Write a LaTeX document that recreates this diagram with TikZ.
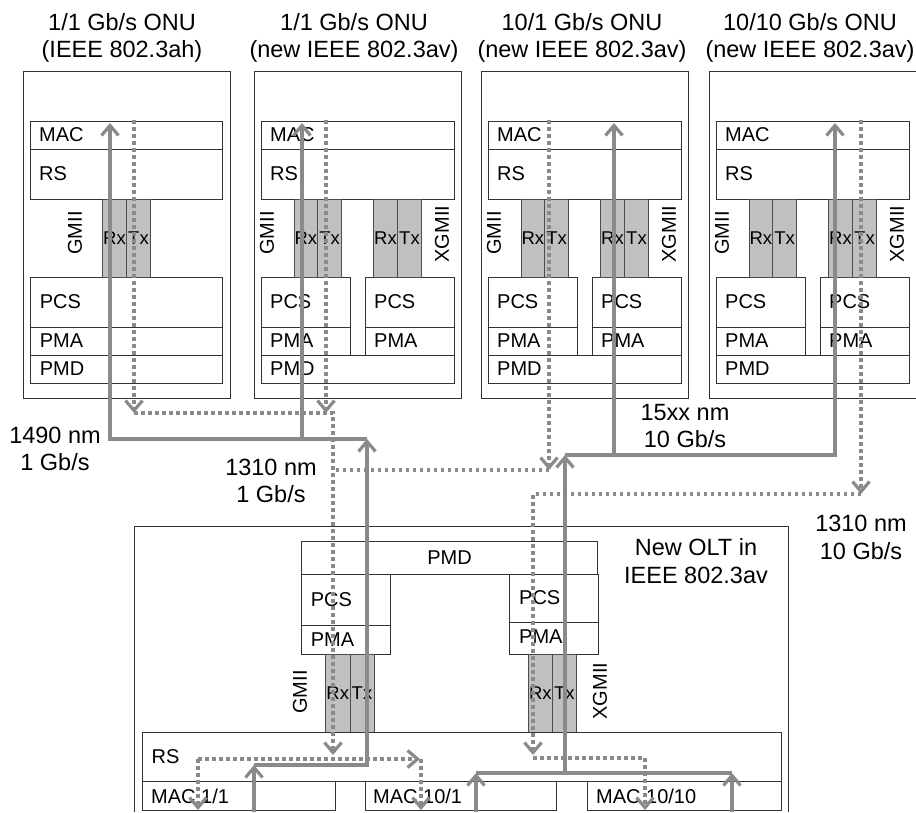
\documentclass[tikz,border=0pt]{standalone}
\usepackage{fontspec}
\setmainfont{Liberation Sans}
\usetikzlibrary{arrows.meta}
\definecolor{linegray}{RGB}{138,138,138}
\definecolor{cellgray}{RGB}{192,192,192}

\begin{document}
\begin{tikzpicture}[x=1pt,y=-1pt,
  box/.style={draw=black!80,line width=0.9pt},
  cell/.style={draw=black!70,fill=cellgray,line width=0.9pt},
  lbl/.style={anchor=west,inner sep=0pt,font=\fontsize{20}{24}\selectfont},
  caption/.style={inner sep=0pt,align=center,font=\fontsize{23.5}{27.7}\selectfont},
  rxtx/.style={inner sep=0pt,font=\fontsize{18.5}{20}\selectfont},
  mii/.style={inner sep=0pt,rotate=90,font=\fontsize{20}{24}\selectfont},
  rxline/.style={draw=linegray,line width=3.2pt},
  txline/.style={draw=linegray,line width=3.2pt,dash pattern=on 3.5pt off 3.5pt},
  barb/.style={-{Straight Barb[length=10pt,width=17pt]}}]

\useasboundingbox (0,0) rectangle (916,812);

\node[caption] (t-a) at (122,38) {1/1 Gb/s ONU\\(IEEE 802.3ah)};
\node[caption] (t-b) at (354,38) {1/1 Gb/s ONU\\(new IEEE 802.3av)};
\node[caption] (t-c) at (582,38) {10/1 Gb/s ONU\\(new IEEE 802.3av)};
\node[caption] (t-d) at (810,38) {10/10 Gb/s ONU\\(new IEEE 802.3av)};

% 802.3ah ONU
\draw[box] (23,71) rectangle (230,398);
\draw[box] (30,121) rectangle (222.5,149);
\draw[box] (30,149) rectangle (222.5,199);
\draw[box] (30.7,277) rectangle (222.3,327);
\draw[box] (30.7,327) rectangle (222.3,355);
\draw[box] (30.7,355) rectangle (222.3,383);
\draw[cell] (102.3,199) rectangle (126.7,277);
\draw[cell] (126.7,199) rectangle (150.3,277);
\node[lbl] (a-mac) at (39,135) {MAC};
\node[lbl] (a-rs) at (39,174) {RS};
\node[lbl] (a-pcs) at (39.7,302) {PCS};
\node[lbl] (a-pma) at (39.7,341) {PMA};
\node[lbl] (a-pmd) at (39.7,369) {PMD};
\node[rxtx] (a-rxl) at (114.5,238) {Rx};
\node[rxtx] (a-txl) at (138.5,238) {Tx};
\node[mii] (a-mii) at (75,233) {GMII};

% 802.3av ONUs
\foreach \ox/\k in {254/b,481/c,709/d}{
  \draw[box] (\ox,71) rectangle ({\ox+207},398);
  \draw[box] ({\ox+7},121) rectangle ({\ox+200},149);
  \draw[box] ({\ox+7},149) rectangle ({\ox+200},199);
  \draw[box] ({\ox+7},277) rectangle ({\ox+96},327);
  \draw[box] ({\ox+7},327) rectangle ({\ox+96},355);
  \draw[box] ({\ox+111},277) rectangle ({\ox+200},327);
  \draw[box] ({\ox+111},327) rectangle ({\ox+200},355);
  \draw[box] ({\ox+7},355) rectangle ({\ox+200},383);
  \draw[cell] ({\ox+40},199) rectangle ({\ox+63.7},277);
  \draw[cell] ({\ox+63.7},199) rectangle ({\ox+87.5},277);
  \draw[cell] ({\ox+119.5},199) rectangle ({\ox+143.5},277);
  \draw[cell] ({\ox+143.5},199) rectangle ({\ox+167.5},277);
  \node[lbl] (\k-mac) at ({\ox+16},135) {MAC};
  \node[lbl] (\k-rs) at ({\ox+16},174) {RS};
  \node[lbl] (\k-pcs) at ({\ox+16},302) {PCS};
  \node[lbl] (\k-pma) at ({\ox+16},341) {PMA};
  \node[lbl] (\k-xpcs) at ({\ox+120},302) {PCS};
  \node[lbl] (\k-xpma) at ({\ox+120},341) {PMA};
  \node[lbl] (\k-pmd) at ({\ox+16},369) {PMD};
  \node[rxtx] (\k-rxl) at ({\ox+51.9},238) {Rx};
  \node[rxtx] (\k-txl) at ({\ox+75.6},238) {Tx};
  \node[rxtx] (\k-xrxl) at ({\ox+131.5},238) {Rx};
  \node[rxtx] (\k-xtxl) at ({\ox+155.5},238) {Tx};
  \node[mii] (\k-mii) at ({\ox+13},233) {GMII};
  \node[mii] (\k-xmii) at ({\ox+188},234) {XGMII};
}

% OLT
\draw[box] (134,812) -- (134,526) -- (788,526) -- (788,812);
\draw[box] (301.7,541.7) rectangle (597.5,574);
\draw[box] (301.7,574) rectangle (390.7,625.7);
\draw[box] (301.7,625.7) rectangle (390.7,654);
\draw[box] (509.3,574) rectangle (598.3,622.3);
\draw[box] (509.3,622.3) rectangle (598.3,654);
\draw[cell] (325.7,654) rectangle (350,732.3);
\draw[cell] (350,654) rectangle (374,732.3);
\draw[cell] (528.3,654) rectangle (552.3,732.3);
\draw[cell] (552.3,654) rectangle (576.3,732.3);
\draw[box] (142.3,732.3) rectangle (781,781.7);
\draw[box] (142.3,781.7) rectangle (335,810);
\draw[box] (365,781.7) rectangle (556,810);
\draw[box] (587,781.7) rectangle (781,810);

\node[lbl,anchor=center] (olt-pmd) at (449.5,558) {PMD};
\node[lbl] (olt-pcs) at (310.7,600) {PCS};
\node[lbl] (olt-pma) at (310.7,640) {PMA};
\node[lbl] (olt-xpcs) at (519,598) {PCS};
\node[lbl] (olt-xpma) at (519,637) {PMA};
\node[rxtx] (olt-rxl) at (337.8,693) {Rx};
\node[rxtx] (olt-txl) at (362,693) {Tx};
\node[rxtx] (olt-xrxl) at (540.3,693) {Rx};
\node[rxtx] (olt-xtxl) at (564.3,693) {Tx};
\node[mii] (olt-mii) at (300,692) {GMII};
\node[mii] (olt-xmii) at (600,691) {XGMII};
\node[lbl] (olt-rs) at (151.5,757) {RS};
\node[lbl] (mac11) at (151,796) {MAC 1/1};
\node[lbl] (mac101) at (373,796) {MAC 10/1};
\node[lbl] (mac1010) at (596,796) {MAC 10/10};
\node[caption] (olt-name) at (696,561) {New OLT in\\IEEE 802.3av};

\node[caption] (wl-1490) at (55,449) {1490 nm\\1 Gb/s};
\node[caption] (wl-1310a) at (271,481) {1310 nm\\1 Gb/s};
\node[caption] (wl-15xx) at (685,426) {15xx nm\\10 Gb/s};
\node[caption] (wl-1310b) at (861,537.5) {1310 nm\\10 Gb/s};

% end points of the paths
\coordinate (a-rx) at (110,123);
\coordinate (b-rx) at (302,123);
\coordinate (c-rx) at (614,123);
\coordinate (d-rx) at (835,123);
\coordinate (a-tx) at (134,120);
\coordinate (b-tx) at (326,120);
\coordinate (c-tx) at (549,120);
\coordinate (d-tx) at (861,120);
\coordinate (dn1) at (367,439);
\coordinate (dn10) at (565,455);
\coordinate (up1) at (333,413);
\coordinate (up1c) at (333,470);
\coordinate (up10) at (533,494);
\coordinate (olt-up1) at (333,755);
\coordinate (olt-up10) at (533,755);
\coordinate (rs-dn1) at (367,765);
\coordinate (rs-dn10) at (565,773);
\coordinate (rs-up1) at (333,759);
\coordinate (rs-up10) at (533,758);
\coordinate (mac11-tx) at (254,812);
\coordinate (mac101-tx) at (476,812);
\coordinate (mac1010-tx) at (732,812);
\coordinate (mac11-rx) at (198,810);
\coordinate (mac101-rx) at (421,810);
\coordinate (mac1010-rx) at (645,810);

% downstream
\draw[rxline,barb] (mac11-tx) -- (mac11-tx |- rs-dn1);
\draw[rxline,barb] (mac11-tx |- rs-dn1) -- (rs-dn1) -- (dn1);
\draw[rxline,barb] (dn1) -- (a-rx |- dn1) -- (a-rx);
\draw[rxline,barb] (b-rx |- dn1) -- (b-rx);
\draw[rxline,barb] (mac101-tx) -- (mac101-tx |- rs-dn10);
\draw[rxline,barb] (mac1010-tx) -- (mac1010-tx |- rs-dn10);
\draw[rxline] (mac101-tx |- rs-dn10) -- (mac1010-tx |- rs-dn10);
\draw[rxline,barb] (rs-dn10) -- (dn10);
\draw[rxline,barb] (dn10) -- (d-rx |- dn10) -- (d-rx);
\draw[rxline,barb] (c-rx |- dn10) -- (c-rx);

% upstream
\draw[txline,barb] (a-tx) -- (a-tx |- up1);
\draw[txline,barb] (b-tx) -- (b-tx |- up1);
\draw[txline,barb] (a-tx |- up1) -- (up1) -- (olt-up1);
\draw[txline,barb] (c-tx) -- (c-tx |- up1c);
\draw[txline] (c-tx |- up1c) -- (up1c);
\draw[txline,barb] (d-tx) -- (d-tx |- up10);
\draw[txline,barb] (d-tx |- up10) -- (up10) -- (olt-up10);
\draw[txline,barb] (mac11-rx |- rs-up1) -- ([xshift=-1pt]mac101-rx |- rs-up1);
\draw[txline,barb] (mac11-rx |- rs-up1) -- (mac11-rx);
\draw[txline,barb] (mac101-rx |- rs-up1) -- (mac101-rx);
\draw[txline] (rs-up10) -- (mac1010-rx |- rs-up10);
\draw[txline,barb] (mac1010-rx |- rs-up10) -- (mac1010-rx);

\end{tikzpicture}
\end{document}
